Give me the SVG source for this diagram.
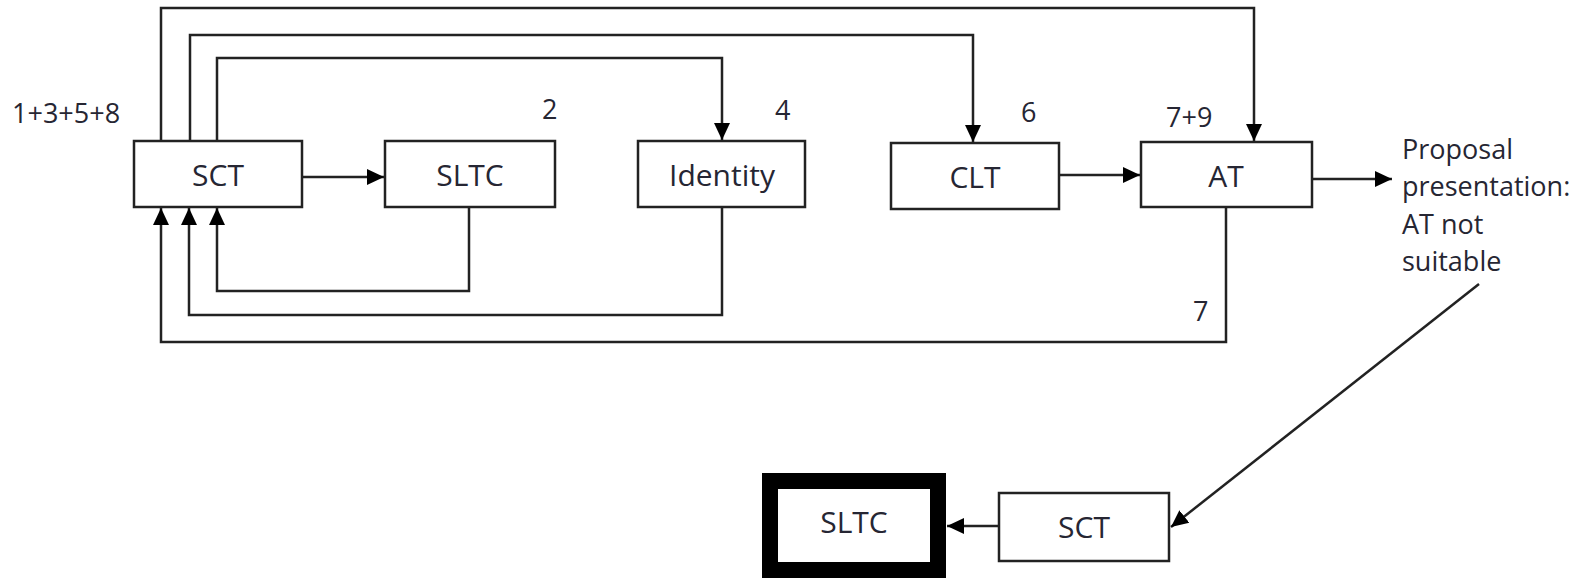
<svg xmlns="http://www.w3.org/2000/svg" width="1578" height="579" viewBox="0 0 1578 579">
<style>
.box{fill:#fff;stroke:#222;stroke-width:2.5}
.thick{fill:#fff;stroke:#000;stroke-width:16}
.node{font-family:"Open Sans","Liberation Sans",sans-serif;font-size:30px;fill:#262633;text-anchor:middle}
.lbl{font-family:"Open Sans","Liberation Sans",sans-serif;font-size:27px;fill:#262633}
.c{fill:none;stroke:#222;stroke-width:2.5}
</style>
<defs>
<marker id="ah" markerUnits="userSpaceOnUse" markerWidth="18" markerHeight="18" refX="17" refY="9" orient="auto">
<path d="M0,1 L17,9 L0,17 Z" fill="#000"/>
</marker>
</defs>
<rect width="1578" height="579" fill="#fff"/>
<g id="connectors">
<path class="c" d="M161,141 V8 H1254 V141" marker-end="url(#ah)"/>
<path class="c" d="M190,141 V35 H973 V142" marker-end="url(#ah)"/>
<path class="c" d="M217,141 V58 H722 V140" marker-end="url(#ah)"/>
<path class="c" d="M302,177 H384" marker-end="url(#ah)"/>
<path class="c" d="M469,207 V291 H217 V208" marker-end="url(#ah)"/>
<path class="c" d="M722,207 V315 H189 V208" marker-end="url(#ah)"/>
<path class="c" d="M1226,207 V342 H161 V208" marker-end="url(#ah)"/>
<path class="c" d="M1059,175 H1140" marker-end="url(#ah)"/>
<path class="c" d="M1312,179 H1392" marker-end="url(#ah)"/>
<path class="c" d="M1479,284 L1171,527" marker-end="url(#ah)"/>
<path class="c" d="M999,526 H947" marker-end="url(#ah)"/>
</g>
<g id="sct">
<rect class="box" x="134" y="141" width="168" height="66"/>
<text class="node" x="218" y="186">SCT</text>
</g>
<g id="sltc">
<rect class="box" x="385" y="141" width="170" height="66"/>
<text class="node" x="470" y="186">SLTC</text>
</g>
<g id="identity">
<rect class="box" x="638" y="141" width="167" height="66"/>
<text class="node" x="722" y="186">Identity</text>
</g>
<g id="clt">
<rect class="box" x="891" y="143" width="168" height="66"/>
<text class="node" x="975" y="188">CLT</text>
</g>
<g id="at">
<rect class="box" x="1141" y="142" width="171" height="65"/>
<text class="node" x="1226" y="187">AT</text>
</g>
<g id="sct2">
<rect class="box" x="999" y="493" width="170" height="68"/>
<text class="node" x="1084" y="538">SCT</text>
</g>
<g id="sltc2">
<rect class="thick" x="770" y="481" width="168" height="89"/>
<text class="node" x="854" y="533">SLTC</text>
</g>
<g id="labels">
<text class="lbl" x="12" y="123">1+3+5+8</text>
<text class="lbl" x="542" y="119">2</text>
<text class="lbl" x="775" y="120">4</text>
<text class="lbl" x="1021" y="122">6</text>
<text class="lbl" x="1166" y="127">7+9</text>
<text class="lbl" x="1193" y="321">7</text>
<text class="lbl" x="1402" y="159">Proposal</text>
<text class="lbl" x="1402" y="196">presentation:</text>
<text class="lbl" x="1402" y="234">AT not</text>
<text class="lbl" x="1402" y="271">suitable</text>
</g>
</svg>
